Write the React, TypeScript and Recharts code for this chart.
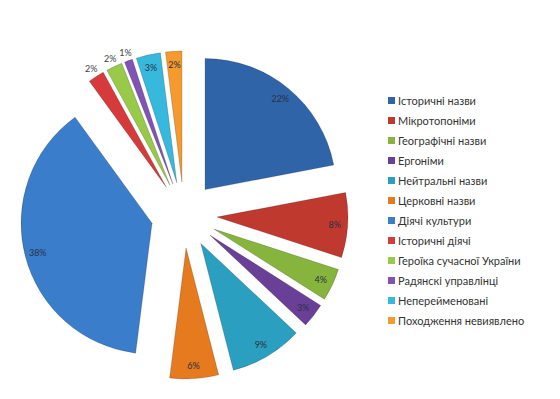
import { PieChart, Pie, Cell, Sector, Legend } from "recharts";

// Category names (legend order = slice order, clockwise from 12 o'clock)
const CATEGORIES = [
  "Історичні назви",
  "Мікротопоніми",
  "Географічні назви",
  "Ергоніми",
  "Нейтральні назви",
  "Церковні назви",
  "Діячі культури",
  "Історичні діячі",
  "Героїка сучасної України",
  "Радянскі управлінці",
  "Неперейменовані",
  "Походження невиявлено",
];

const SHARES = [22, 8, 4, 3, 9, 6, 38, 2, 2, 1, 3, 2];

const COLORS = [
  "#2f64a8", "#c0392f", "#86b43c", "#6a3f98", "#2a9fc0", "#e57a1e",
  "#3a7dca", "#d63a3a", "#98c948", "#8153b4", "#37b9de", "#f59a2c",
];

// slices whose % label sits outside the slice (too thin)
const OUTSIDE_LABELS = [7, 8, 9];

const data = CATEGORIES.map((name, i) => ({ name, value: SHARES[i] }));

const RADIAN = Math.PI / 180;
const EXPLODE = 33;
const FONT = "Lato, 'Open Sans', sans-serif";

function ExplodedSector(props: any) {
  const { cx, cy, midAngle, fill } = props;
  const dx = EXPLODE * Math.cos(-midAngle * RADIAN);
  const dy = EXPLODE * Math.sin(-midAngle * RADIAN);
  return (
    <Sector
      {...props}
      cx={cx + dx}
      cy={cy + dy}
      fill={fill}
      stroke="rgba(0,0,0,0.18)"
      strokeWidth={1}
    />
  );
}

function renderLabel(props: any) {
  const { cx, cy, midAngle, outerRadius, index, value } = props;
  const outside = OUTSIDE_LABELS.includes(index);
  const ox = cx + EXPLODE * Math.cos(-midAngle * RADIAN);
  const oy = cy + EXPLODE * Math.sin(-midAngle * RADIAN);
  const r = outside ? outerRadius + 9 : outerRadius - 13;
  const x = ox + r * Math.cos(-midAngle * RADIAN);
  const y = oy + r * Math.sin(-midAngle * RADIAN);
  return (
    <text
      x={x}
      y={y}
      textAnchor="middle"
      dominantBaseline="central"
      fontSize={9}
      fontFamily={FONT}
      fill={outside ? "#404040" : "#2b2f45"}
    >
      {`${value}%`}
    </text>
  );
}

// legend keeps the data order (Recharts would sort it by name)
function LegendList() {
  return (
    <ul style={{ listStyle: "none", margin: 0, padding: 0 }}>
      {CATEGORIES.map((name, i) => (
        <li
          key={name}
          style={{
            height: 20,
            display: "flex",
            alignItems: "center",
            fontFamily: FONT,
            fontSize: 11,
            color: "#333",
            whiteSpace: "nowrap",
          }}
        >
          <span
            style={{
              display: "inline-block",
              width: 7,
              height: 7,
              background: COLORS[i],
              marginRight: 3,
            }}
          />
          {name}
        </li>
      ))}
    </ul>
  );
}

export default function App() {
  return (
    <div style={{ position: "absolute", left: 0, top: 0, width: 560, height: 399, background: "#fff" }}>
      <PieChart width={560} height={399}>
        <Pie
          data={data}
          dataKey="value"
          nameKey="name"
          cx={179}
          cy={210}
          outerRadius={131}
          startAngle={90}
          endAngle={-270}
          shape={ExplodedSector}
          label={renderLabel}
          labelLine={false}
          isAnimationActive={false}
        >
          {data.map((_, i) => (
            <Cell key={i} fill={COLORS[i]} />
          ))}
        </Pie>
        <Legend
          layout="vertical"
          content={<LegendList />}
          wrapperStyle={{ left: 388, top: 90, width: 170 }}
        />
      </PieChart>
    </div>
  );
}
